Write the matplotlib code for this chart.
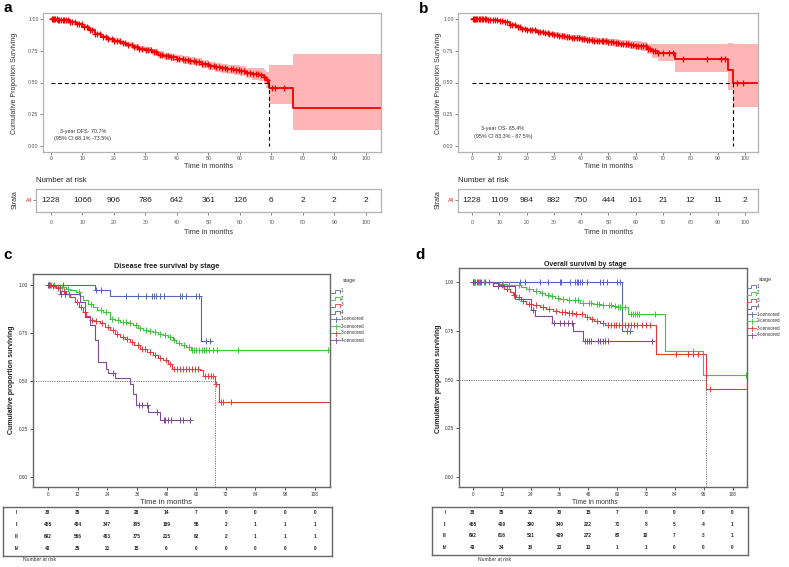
import matplotlib
matplotlib.use("Agg")
import matplotlib.pyplot as plt
from matplotlib.lines import Line2D
from bisect import bisect_right

plt.rcParams['font.family'] = ['Liberation Sans', 'DejaVu Sans']

# ---------------- DATA ----------------
# Panel a: disease free survival, all patients
a_t = [0, 2, 4, 6, 8, 10, 12, 14, 16, 18, 20, 22, 24, 26, 28, 30, 32, 34, 36, 38, 40, 42,
       44, 46, 48, 50, 52, 54, 56, 58, 60, 62, 64, 66, 67.5, 68.3, 69.1, 77]
a_s = [1.0, 0.995, 0.99, 0.975, 0.96, 0.94, 0.915, 0.885, 0.862, 0.845, 0.83, 0.812, 0.797,
       0.782, 0.767, 0.755, 0.742, 0.72, 0.707, 0.697, 0.688, 0.678, 0.668, 0.658, 0.645, 0.632,
       0.62, 0.612, 0.605, 0.598, 0.59, 0.577, 0.567, 0.562, 0.545, 0.52, 0.455, 0.30]
a_lo = [1.0, 0.99, 0.984, 0.967, 0.95, 0.929, 0.902, 0.871, 0.847, 0.829, 0.813, 0.794, 0.778,
        0.762, 0.746, 0.733, 0.719, 0.696, 0.681, 0.67, 0.66, 0.649, 0.638, 0.627, 0.613, 0.599,
        0.586, 0.577, 0.569, 0.561, 0.552, 0.536, 0.522, 0.512, 0.49, 0.46, 0.33, 0.126]
a_hi = [1.0, 1.0, 0.996, 0.983, 0.97, 0.951, 0.928, 0.899, 0.877, 0.861, 0.847, 0.83, 0.816,
        0.802, 0.788, 0.777, 0.765, 0.744, 0.735, 0.724, 0.716, 0.707, 0.698, 0.689, 0.677, 0.665,
        0.654, 0.647, 0.641, 0.635, 0.628, 0.618, 0.612, 0.612, 0.6, 0.58, 0.634, 0.724]
a_end = 105
a_cens = [0.2, 0.6, 0.9, 1.4, 1.8, 2.3, 2.7, 3.2, 3.7, 4.1, 4.8, 5.4, 6.0, 6.8, 7.5, 8.2, 9.0,
          9.9, 10.6, 11.4, 12.3, 13.1, 14.0, 14.8, 15.7, 16.5, 17.4, 18.2, 19.3, 20.1, 21.0,
          21.8, 22.9, 23.6, 24.5, 25.6, 26.3, 27.4, 28.1, 29.0, 30.1, 30.8, 31.9, 32.6, 33.5,
          34.6, 35.3, 36.4, 37.1, 38.2, 38.9, 40.0, 40.7, 41.8, 42.5, 43.6, 44.3, 45.4, 46.1,
          47.0, 48.1, 48.8, 49.9, 50.6, 51.7, 52.4, 53.5, 54.2, 55.3, 56.0, 57.1, 57.8, 58.9,
          59.6, 60.5, 61.4, 62.3, 63.2, 64.1, 65.0, 65.9, 66.8, 67.7, 68.7, 70.2, 71.3, 74.0]
a_median = 69.1
a_risk_t = [0, 10, 20, 30, 40, 50, 60, 70, 80, 90, 100]
a_risk = [1228, 1066, 906, 786, 642, 361, 126, 6, 2, 2, 2]

# Panel b: overall survival, all patients
b_t = [0, 3, 6, 8, 10, 12, 14, 16, 18, 20, 22, 24, 26, 28, 30, 32, 34, 36, 38, 40, 42, 44, 46,
       48, 50, 52, 54, 56, 58, 60, 62, 64, 66, 68, 74.3, 93.9, 95.7]
b_s = [1.0, 0.998, 0.995, 0.99, 0.985, 0.975, 0.955, 0.94, 0.925, 0.915, 0.91, 0.9, 0.89, 0.882,
       0.875, 0.866, 0.858, 0.854, 0.848, 0.842, 0.835, 0.83, 0.828, 0.825, 0.818, 0.81, 0.806,
       0.8, 0.797, 0.79, 0.785, 0.765, 0.745, 0.735, 0.684, 0.595, 0.50]
b_lo = [1.0, 0.995, 0.991, 0.985, 0.979, 0.967, 0.945, 0.928, 0.912, 0.901, 0.895, 0.884, 0.873,
        0.864, 0.856, 0.846, 0.837, 0.833, 0.826, 0.819, 0.811, 0.805, 0.802, 0.798, 0.79, 0.781,
        0.776, 0.769, 0.765, 0.757, 0.75, 0.725, 0.69, 0.67, 0.58, 0.44, 0.31]
b_hi = [1.0, 1.0, 0.999, 0.995, 0.991, 0.983, 0.965, 0.952, 0.938, 0.929, 0.925, 0.916, 0.907,
        0.9, 0.894, 0.886, 0.879, 0.875, 0.87, 0.865, 0.859, 0.855, 0.854, 0.852, 0.846, 0.839,
        0.836, 0.831, 0.829, 0.823, 0.82, 0.805, 0.8, 0.8, 0.8, 0.81, 0.80]
b_end = 105
b_cens = [0.3, 0.7, 1.1, 1.6, 2.0, 2.5, 3.0, 3.6, 4.1, 4.7, 5.3, 6.0, 6.8, 7.6, 8.5, 9.3, 10.2,
          11.0, 12.1, 12.9, 14.0, 14.8, 15.9, 16.7, 17.6, 18.5, 19.4, 20.3, 21.2, 22.1, 23.0,
          24.1, 24.8, 25.9, 26.6, 27.7, 28.4, 29.5, 30.2, 31.3, 32.0, 33.1, 33.8, 34.9, 35.6,
          36.7, 37.4, 38.5, 39.2, 40.3, 41.0, 42.1, 42.8, 43.9, 44.6, 45.7, 46.4, 47.5, 48.2,
          49.3, 50.0, 51.1, 51.8, 52.9, 53.6, 54.7, 55.4, 56.5, 57.2, 58.3, 59.0, 60.1, 60.8,
          61.9, 62.6, 63.7, 64.4, 65.3, 66.2, 67.1, 68.0, 70.1, 72.2, 73.6, 77.5, 86.0, 91.3,
          92.6, 97.0, 99.2]
b_median = 95.7
b_risk_t = [0, 10, 20, 30, 40, 50, 60, 70, 80, 90, 100]
b_risk = [1228, 1109, 984, 882, 750, 444, 161, 21, 12, 11, 2]

# Panel c: disease free survival by stage
c_times = {
    '1': [0, 18.9, 25.0, 61.8],
    '2': [0, 3, 7.4, 9, 11.5, 13, 14.2, 16, 18.2, 20, 22.3, 24.9, 27, 29, 32, 34.4, 36.5, 38.5,
          40.5, 42.5, 44.5, 46.6, 48.5, 50.6, 52, 54, 56, 58],
    '3': [0, 1.5, 3.4, 5, 7.4, 9, 10.8, 12.5, 14.2, 15.5, 16.9, 18.5, 20.9, 23, 25, 27, 29, 31,
          33, 35, 37.1, 40, 42.5, 44.5, 46.6, 48.5, 50, 61.4, 62.8, 67.5, 69.1],
    '4': [0, 4.7, 12.8, 14.9, 16.9, 18.9, 20.3, 23.6, 24.3, 27, 33, 34.4, 35.8, 40.5, 45.2],
}
c_surv = {
    '1': [1.0, 0.976, 0.944, 0.707],
    '2': [1.0, 0.99, 0.98, 0.972, 0.964, 0.94, 0.92, 0.9, 0.885, 0.872, 0.86, 0.825, 0.815,
          0.807, 0.8, 0.79, 0.778, 0.767, 0.76, 0.755, 0.745, 0.738, 0.728, 0.712, 0.70, 0.686,
          0.675, 0.663],
    '3': [1.0, 0.993, 0.986, 0.97, 0.955, 0.935, 0.91, 0.885, 0.86, 0.84, 0.82, 0.81, 0.80,
          0.782, 0.764, 0.745, 0.729, 0.716, 0.703, 0.685, 0.668, 0.65, 0.634, 0.622, 0.611,
          0.588, 0.564, 0.556, 0.524, 0.486, 0.39],
    '4': [1.0, 0.951, 0.91, 0.833, 0.79, 0.712, 0.599, 0.564, 0.542, 0.517, 0.486, 0.43, 0.373,
          0.339, 0.295],
}
c_end = {'1': 66.4, '2': 113.4, '3': 114.0, '4': 58.0}
c_cens = {
    '1': [0.5, 6.1, 19.6, 21.6, 31.7, 36.5, 39.8, 41.9, 42.8, 43.9, 45.2, 47.0, 53.3, 54.4, 56.0,
          60.0, 61.0, 64.1, 65.5],
    '2': [0.4, 1.2, 2.5, 5.8, 8.2, 12.4, 17.3, 21.5, 23.4, 26.1, 28.3, 30.5, 31.4, 33.2, 35.6,
          37.3, 39.5, 41.4, 43.3, 45.5, 47.2, 49.4, 51.2, 53.1, 55.0, 57.1, 58.4, 59.3, 60.1,
          61.0, 62.2, 63.1, 64.0, 65.2, 66.8, 68.5, 77.0, 113.4],
    '3': [0.3, 0.9, 2.2, 4.1, 6.3, 8.4, 11.6, 13.5, 15.0, 17.7, 19.5, 21.8, 24.1, 26.2, 28.1,
          30.2, 32.1, 34.2, 36.3, 38.2, 39.1, 41.3, 43.5, 45.4, 47.6, 49.3, 51.0, 52.2, 53.4,
          54.6, 55.8, 57.0, 58.2, 59.4, 60.6, 63.5, 64.6, 65.8, 67.0, 68.2, 70.0, 70.8, 74.2],
    '4': [0.0, 5.2, 7.0, 26.5, 36.8, 38.0, 40.0, 44.0, 46.8, 47.5, 48.5, 49.6, 53.5, 54.8, 57.5],
}
c_median = 67.6
c_risk = {
    'I': [38, 35, 31, 28, 14, 7, 0, 0, 0, 0],
    'II': [455, 404, 347, 305, 189, 55, 2, 1, 1, 1],
    'III': [692, 566, 463, 375, 215, 62, 2, 1, 1, 1],
    'IV': [43, 35, 21, 15, 6, 0, 0, 0, 0, 0],
}

# Panel d: overall survival by stage
d_times = {
    '1': [0, 62.1],
    '2': [0, 8.3, 11, 14, 18, 20, 22, 25, 27.8, 30, 32, 34, 36, 39, 41.7, 44.5, 47, 50, 53, 55.6,
          58, 59.8, 64.6, 80, 95.9],
    '3': [0, 8.3, 11, 13, 15.3, 16.5, 18, 20, 22, 25, 27.8, 30.5, 33.4, 36, 39, 42, 44.5, 46.5,
          48.6, 50.5, 52.8, 55, 76, 97],
    '4': [0, 8.3, 17.4, 24.3, 25.7, 32.7, 41.7, 45.9],
}
d_surv = {
    '1': [1.0, 0.75],
    '2': [1.0, 0.995, 0.99, 0.987, 0.983, 0.975, 0.966, 0.955, 0.944, 0.935, 0.926, 0.92, 0.914,
          0.91, 0.906, 0.892, 0.89, 0.889, 0.884, 0.88, 0.876, 0.872, 0.834, 0.644, 0.521],
    '3': [1.0, 0.993, 0.983, 0.966, 0.949, 0.935, 0.923, 0.905, 0.889, 0.88, 0.872, 0.862, 0.851,
          0.845, 0.841, 0.837, 0.834, 0.822, 0.812, 0.8, 0.791, 0.778, 0.632, 0.453],
    '4': [1.0, 0.978, 0.914, 0.855, 0.826, 0.791, 0.749, 0.697],
}
d_end = {'1': 66.3, '2': 114.0, '3': 114.0, '4': 74.4}
d_cens = {
    '1': [0.3, 1.5, 3.0, 19.5, 21.5, 27.8, 31.3, 36.1, 36.8, 40.3, 42.4, 43.1, 43.8, 44.5, 45.2,
          47.3, 52.8, 54.2, 55.6, 59.8, 61.2, 63.9, 65.3],
    '2': [0.6, 2.4, 4.5, 12.5, 15.2, 19.1, 23.5, 26.3, 28.9, 31.1, 33.0, 35.2, 37.5, 40.1, 42.5,
          43.6, 45.8, 48.1, 49.2, 51.4, 52.3, 54.1, 56.7, 57.5, 59.0, 60.5, 61.3, 62.2, 63.1,
          65.6, 66.5, 67.4, 68.3, 69.2, 75.8, 91.5, 113.6],
    '3': [0.2, 1.0, 2.0, 3.5, 5.0, 6.5, 12.0, 14.1, 17.0, 19.2, 21.0, 23.3, 26.1, 29.0, 31.5,
          34.5, 37.2, 38.1, 40.0, 41.1, 43.0, 45.5, 47.5, 49.6, 51.7, 53.9, 56.0, 57.3, 58.5,
          59.7, 60.9, 62.1, 63.3, 64.5, 65.7, 66.9, 68.1, 70.5, 72.0, 73.8, 84.5, 89.3, 91.5,
          93.6, 98.8],
    '4': [0.0, 10.5, 24.8, 33.6, 36.2, 37.9, 39.6, 41.0, 46.6, 47.5, 48.4, 49.3, 52.0, 53.0,
          53.9, 54.8, 56.0, 74.4],
}
d_median = 97.0
d_risk = {
    'I': [38, 35, 32, 30, 15, 7, 0, 0, 0, 0],
    'II': [455, 419, 390, 340, 222, 71, 8, 5, 4, 1],
    'III': [692, 616, 511, 439, 272, 80, 10, 7, 3, 1],
    'IV': [43, 34, 30, 23, 13, 1, 1, 0, 0, 0],
}
spss_ticks = [0, 12, 24, 36, 48, 60, 72, 84, 96, 108]
stages = ['1', '2', '3', '4']
stage_colors = {'1': '#5567b5', '2': '#3fc43f', '3': '#e8383c', '4': '#7e4a94'}

# ---------------- FIGURE ----------------
W, H = 789, 567
fig = plt.figure(figsize=(W / 100, H / 100), dpi=100)


def add_ax(l, t, r, b):
    return fig.add_axes([l / W, 1 - b / H, (r - l) / W, (b - t) / H])


def ftext(x, y, s, **kw):
    fig.text(x / W, 1 - y / H, s, **kw)


def fline(xs, ys, **kw):
    fig.add_artist(Line2D([x / W for x in xs], [1 - y / H for y in ys],
                          transform=fig.transFigure, **kw))


RED = '#f20000'
PINK = '#ffb5b5'
GRAYSP = '#b3b3b3'
TICKC = '#555555'


def step_value(t, s, x):
    return s[bisect_right(t, x) - 1]


def gg_panel(box, xlim, t, s, lo, hi, end, cens, median):
    ax = add_ax(*box)
    tt = t + [end]
    ax.fill_between(tt, lo + [lo[-1]], hi + [hi[-1]], step='post', color=PINK, lw=0)
    ax.step(tt, s + [s[-1]], where='post', color=RED, lw=1.3)
    ax.plot(cens, [step_value(t, s, c) for c in cens], ls='none', marker='+', ms=4.5,
            mew=0.9, color=RED)
    ax.plot([0, median], [0.5, 0.5], color='black', lw=0.8, ls=(0, (3.5, 2.5)))
    ax.plot([median, median], [0.5, 0], color='black', lw=0.8, ls=(0, (3.5, 2.5)))
    ax.set_xlim(*xlim)
    ax.set_ylim(-0.047, 1.047)
    ax.set_xticks(range(0, 101, 10))
    ax.set_yticks([0, 0.25, 0.5, 0.75, 1.0])
    ax.set_yticklabels(['0.00', '0.25', '0.50', '0.75', '1.00'])
    ax.tick_params(labelsize=3.8, colors=TICKC, length=2, width=0.5, pad=1.2)
    for sp in ax.spines.values():
        sp.set_color(GRAYSP)
        sp.set_linewidth(0.9)
    return ax


def gg_risk(box, xlim, rt, rv):
    ax = add_ax(*box)
    for x, v in zip(rt, rv):
        ax.text(x, 0.5, str(v), ha='center', va='center', fontsize=6.0, color='#222222')
    ax.set_xlim(*xlim)
    ax.set_ylim(0, 1)
    ax.set_xticks(range(0, 101, 10))
    ax.set_yticks([0.5])
    ax.set_yticklabels(['All'], color='#cc2222')
    ax.tick_params(axis='x', labelsize=3.8, colors=TICKC, length=2, width=0.5, pad=3.5)
    ax.tick_params(axis='y', labelsize=3.8, length=2, width=0.5, colors=TICKC, pad=1)
    for lab in ax.get_yticklabels():
        lab.set_color('#cc2222')
    for sp in ax.spines.values():
        sp.set_color(GRAYSP)
        sp.set_linewidth(0.9)
    return ax


# ---- Panel a ----
gg_panel((43, 13, 381, 152), (-2.5, 104.8), a_t, a_s, a_lo, a_hi, a_end, a_cens, a_median)
ftext(15, 83, 'Cumulative Proportion Surviving', rotation=90, ha='center', va='center',
      fontsize=5.0, color='#333333')
ftext(208, 166, 'Time in months', ha='center', va='center', fontsize=5.2, color='#333333')
ftext(83, 131, '3-year DFS- 70.7%', ha='center', va='center', fontsize=3.9, color='#333333')
ftext(83, 138.5, '(95% CI 68.1% -73.5%)', ha='center', va='center', fontsize=3.9,
      color='#333333')
gg_risk((36, 189, 381, 212), (-4.76, 104.8), a_risk_t, a_risk)
ftext(36, 181, 'Number at risk', ha='left', va='center', fontsize=5.6, color='#222222')
ftext(15, 200, 'Strata', rotation=90, ha='center', va='center', fontsize=5.0, color='#333333')
ftext(208, 233, 'Time in months', ha='center', va='center', fontsize=5.2, color='#333333')
ftext(3, 12, 'a', ha='left', va='baseline', fontsize=11, fontweight='bold')

# ---- Panel b ----
gg_panel((458, 13, 758, 152), (-5.1, 104.8), b_t, b_s, b_lo, b_hi, b_end, b_cens, b_median)
ftext(439, 83, 'Cumulative Proportion Surviving', rotation=90, ha='center', va='center',
      fontsize=5.0, color='#333333')
ftext(609, 166, 'Time in months', ha='center', va='center', fontsize=5.2, color='#333333')
ftext(503, 129, '3-year OS- 85.4%', ha='center', va='center', fontsize=3.9, color='#333333')
ftext(503, 137, '(95% CI 83.3% - 87.5%)', ha='center', va='center', fontsize=3.9,
      color='#333333')
gg_risk((458, 189, 758, 212), (-5.1, 104.8), b_risk_t, b_risk)
ftext(458, 181, 'Number at risk', ha='left', va='center', fontsize=5.6, color='#222222')
ftext(438, 200, 'Strata', rotation=90, ha='center', va='center', fontsize=5.0, color='#333333')
ftext(609, 233, 'Time in months', ha='center', va='center', fontsize=5.2, color='#333333')
ftext(419, 13, 'b', ha='left', va='baseline', fontsize=11, fontweight='bold')


# ---- SPSS panels ----
def spss_panel(box, xlim, ylim, times, surv, ends, cens, median):
    ax = add_ax(*box)
    for k in stages:
        t, s = times[k], surv[k]
        ax.step(t + [ends[k]], s + [s[-1]], where='post', color=stage_colors[k], lw=0.8)
        ax.plot(cens[k], [step_value(t, s, c) for c in cens[k]], ls='none', marker='+',
                ms=4, mew=0.7, color=stage_colors[k])
    ax.plot([xlim[0], median], [0.5, 0.5], color='#777777', lw=0.7, ls=(0, (1.2, 1.2)))
    ax.plot([median, median], [0.5, ylim[0]], color='#777777', lw=0.7, ls=(0, (1.2, 1.2)))
    ax.set_xlim(*xlim)
    ax.set_ylim(*ylim)
    ax.set_xticks(spss_ticks)
    ax.set_yticks([0, 0.25, 0.5, 0.75, 1.0])
    ax.set_yticklabels(['0.00', '0.25', '0.50', '0.75', '1.00'])
    ax.tick_params(labelsize=3.4, colors='#333333', length=2.5, width=0.6, pad=1.2,
                   direction='out')
    for sp in ax.spines.values():
        sp.set_color('#666666')
        sp.set_linewidth(1.0)
    return ax


def spss_legend(x0, ytitle, y0, dy):
    ftext(x0 + 12, ytitle, 'stage', ha='left', va='center', fontsize=3.8, color='#333333')
    for i, k in enumerate(stages):
        y = y0 + i * dy
        fline([x0, x0 + 4, x0 + 4, x0 + 9, x0 + 9], [y + 1.5, y + 1.5, y - 1.5, y - 1.5, y + 1.5],
              color=stage_colors[k], lw=0.6)
        ftext(x0 + 10, y, k, ha='left', va='center', fontsize=3.3, color='#333333')
    for i, k in enumerate(stages):
        y = y0 + (i + 4) * dy
        fline([x0, x0 + 9], [y, y], color=stage_colors[k], lw=0.6)
        fline([x0 + 4.5, x0 + 4.5], [y - 2.5, y + 2.5], color=stage_colors[k], lw=0.6)
        ftext(x0 + 10, y, k + '-censored', ha='left', va='center', fontsize=3.3,
              color='#333333')


def spss_risk(box, xlim, label_x, risk):
    ax = add_ax(*box)
    for i, (row, vals) in enumerate(risk.items()):
        y = 0.89 - i * 0.245
        ax.text(label_x, y, row, ha='center', va='center', fontsize=3.3, fontweight='bold',
                color='#222222')
        for x, v in zip(spss_ticks, vals):
            ax.text(x, y, str(v), ha='center', va='center', fontsize=3.4, fontweight='bold',
                    color='#222222')
    ax.set_xlim(*xlim)
    ax.set_ylim(0, 1)
    ax.set_xticks([])
    ax.set_yticks([])
    for sp in ax.spines.values():
        sp.set_color('#666666')
        sp.set_linewidth(1.0)
    return ax


# ---- Panel c ----
spss_panel((33, 274, 330, 487), (-6.1, 114.2), (-0.052, 1.057), c_times, c_surv, c_end,
           c_cens, c_median)
ftext(167, 266, 'Disease free survival by stage', ha='center', va='center', fontsize=5.3,
      fontweight='bold', color='#222222')
ftext(12, 380, 'Cumulative proportion surviving', rotation=90, ha='center', va='center',
      fontsize=5.0, fontweight='bold', color='#222222')
ftext(166, 502, 'Time in months', ha='center', va='center', fontsize=5.5, color='#333333')
spss_legend(331, 281, 291, 7.0)
spss_risk((3, 507, 332, 556), (-18.2, 115.0), -12.6, c_risk)
ftext(23, 559.5, 'Number at risk', ha='left', va='center', fontsize=3.6, color='#333333')
ftext(3, 259, 'c', ha='left', va='baseline', fontsize=11, fontweight='bold')

# ---- Panel d ----
spss_panel((459, 268, 747, 487), (-5.8, 114.0), (-0.051, 1.072), d_times, d_surv, d_end,
           d_cens, d_median)
ftext(585, 264, 'Overall survival by stage', ha='center', va='center', fontsize=5.0,
      fontweight='bold', color='#222222')
ftext(438, 379, 'Cumulative proportion surviving', rotation=90, ha='center', va='center',
      fontsize=5.0, fontweight='bold', color='#222222')
ftext(595, 503, 'Time in months', ha='center', va='center', fontsize=4.8, color='#333333')
spss_legend(747, 279, 286, 7.0)
spss_risk((432, 507, 748, 555), (-17.1, 114.6), -11.7, d_risk)
ftext(478, 559.5, 'Number at risk', ha='left', va='center', fontsize=3.6, color='#333333')
ftext(415, 259, 'd', ha='left', va='baseline', fontsize=11, fontweight='bold')

fig.savefig('out.png', dpi=100)
